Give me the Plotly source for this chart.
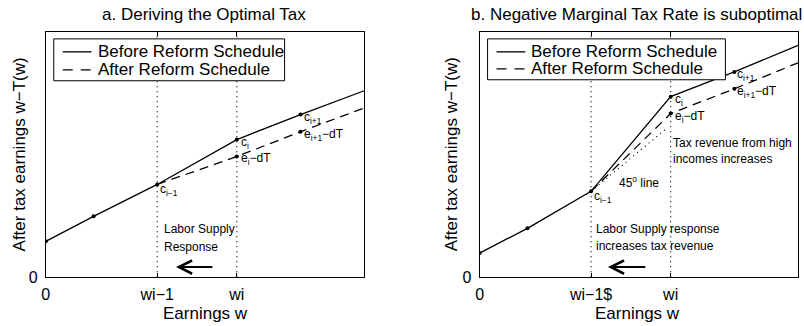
import plotly.graph_objects as go

W, H = 804, 326          # reference frame used for placing items (paper fractions)
H_LAYOUT = 334           # rendered height (the capture is squeezed to 326 rows)
FONT = "Liberation Sans, Arial, Helvetica, sans-serif"

# ---------------- data ----------------
x_pts = [0, 1.5, 3.5, 6.0, 8.0, 10.0]
tick_vals = [0, 3.5, 6.0]
ticks_a = ["0", "wi−1", "wi"]
ticks_b = ["0", "wi−1$", "wi"]
wi_1, wi = 3.5, 6.0

before_a = [1.46, 2.48, 3.78, 5.61, 6.63, 7.60]
after_x = [3.5, 6.0, 8.0, 10.0]
after_a = [3.78, 4.92, 5.93, 6.90]

before_b = [0.98, 1.99, 3.50, 7.36, 8.37, 9.45]
after_b = [3.50, 6.67, 7.68, 8.74]
line45_x = [3.5, 5.9]
line45_y = [3.5, 6.1]

legend_labels = ["Before Reform Schedule", "After Reform Schedule"]
titles = ["a. Deriving the Optimal Tax", "b. Negative Marginal Tax Rate is suboptimal"]


def px(x):
    return x / W


def py(y):
    return 1 - y / H


fig = go.Figure()

SOLID = dict(color="black", width=1.3)
DASH = dict(color="black", width=1.3, dash="9px,6px")
DOT = dict(color="black", width=1.2, dash="1px,4px")

for xr, yr, before, after in [("x", "y", before_a, after_a), ("x2", "y2", before_b, after_b)]:
    for v in (wi_1, wi):
        fig.add_trace(go.Scatter(x=[v, v], y=[0, 10], mode="lines", line=DOT,
                                 xaxis=xr, yaxis=yr, showlegend=False, hoverinfo="skip"))
    fig.add_trace(go.Scatter(x=x_pts, y=before, mode="lines", line=SOLID,
                             xaxis=xr, yaxis=yr, showlegend=False))
    fig.add_trace(go.Scatter(x=after_x, y=after, mode="lines", line=DASH,
                             xaxis=xr, yaxis=yr, showlegend=False))
    fig.add_trace(go.Scatter(x=x_pts[:5], y=before[:5], mode="markers",
                             marker=dict(color="black", size=4),
                             xaxis=xr, yaxis=yr, showlegend=False))
    fig.add_trace(go.Scatter(x=after_x[1:3], y=after[1:3], mode="markers",
                             marker=dict(color="black", size=4),
                             xaxis=xr, yaxis=yr, showlegend=False))

fig.add_trace(go.Scatter(x=line45_x, y=line45_y, mode="lines", line=DOT,
                         xaxis="x2", yaxis="y2", showlegend=False))

ann = []
LBL = dict(size=12, color="black", family=FONT)


def point_label(text, x, y, xr, yr, yshift=-3, xshift=3):
    ann.append(dict(text=text, x=x, y=y, xref=xr, yref=yr, xanchor="left", yanchor="middle",
                    showarrow=False, xshift=xshift, yshift=yshift, font=LBL))


for xr, yr, before, after in [("x", "y", before_a, after_a), ("x2", "y2", before_b, after_b)]:
    point_label("c<sub>i−1</sub>", x_pts[2], before[2], xr, yr, yshift=-6, xshift=1)
    point_label("c<sub>i</sub>", x_pts[3], before[3], xr, yr, yshift=-3, xshift=2)
    point_label("c<sub>i+1</sub>", x_pts[4], before[4], xr, yr, yshift=-3, xshift=1)
    point_label("e<sub>i</sub>−dT", after_x[1], after[1], xr, yr, yshift=-3, xshift=2)
    point_label("e<sub>i+1</sub>−dT", after_x[2], after[2], xr, yr, yshift=-3, xshift=1)

TXT = dict(size=12, color="black", family=FONT)


def text_at(t, x, y, xr, yr):
    ann.append(dict(text=t, x=x, y=y, xref=xr, yref=yr, xanchor="left", yanchor="middle",
                    showarrow=False, font=TXT))


text_at("Labor Supply", 3.66, 1.95, "x", "y")
text_at("Response", 3.66, 1.22, "x", "y")
text_at("Labor Supply response", 3.60, 1.95, "x2", "y2")
text_at("increases tax revenue", 3.60, 1.26, "x2", "y2")
text_at("Tax revenue from high", 6.00, 5.49, "x2", "y2")
text_at("incomes increases", 6.00, 4.80, "x2", "y2")
text_at("45<sup>o</sup> line", 4.30, 3.86, "x2", "y2")

# arrows (labor supply response)
for xr, yr, head, tail in [("x", "y", 4.09, 5.28), ("x2", "y2", 4.03, 5.25)]:
    ann.append(dict(text="", x=head, y=0.41, ax=tail, ay=0.41, xref=xr, yref=yr,
                    axref=xr, ayref=yr, showarrow=True, arrowhead=5, arrowsize=1.3,
                    arrowwidth=2, arrowcolor="black", standoff=0))

# titles and axis titles
BIG = dict(size=17, color="black", family=FONT)
for t, cx in zip(titles, [201, 636]):
    ann.append(dict(text=t, x=px(cx), y=py(15), xref="paper", yref="paper",
                    xanchor="center", yanchor="middle", showarrow=False, font=BIG))
for cx in [203, 637]:
    ann.append(dict(text="Earnings w", x=px(cx), y=py(314), xref="paper", yref="paper",
                    xanchor="center", yanchor="middle", showarrow=False, font=BIG))
for cx in [16, 450]:
    ann.append(dict(text="After tax earnings w−T(w)", x=px(cx), y=py(155), xref="paper",
                    yref="paper", xanchor="center", yanchor="middle", showarrow=False,
                    textangle=-90, font=BIG))

# legends (drawn boxes)
shapes = []
for (x0, x1, y0, y1, s0, s1, tx, r1, r2) in [
    (50, 282, 39, 81, 59, 88, 93, 52, 70),
    (486, 725, 39, 80, 495, 524, 529, 52, 69),
]:
    shapes.append(dict(type="rect", xref="paper", yref="paper", x0=px(x0), x1=px(x1),
                       y0=py(y1), y1=py(y0), line=dict(color="black", width=1),
                       fillcolor="white", layer="above"))
    shapes.append(dict(type="line", xref="paper", yref="paper", x0=px(s0), x1=px(s1),
                       y0=py(r1), y1=py(r1), line=dict(color="black", width=1.3), layer="above"))
    shapes.append(dict(type="line", xref="paper", yref="paper", x0=px(s0), x1=px(s1),
                       y0=py(r2), y1=py(r2), line=dict(color="black", width=1.3, dash="10px,8px"),
                       layer="above"))
    for lab, r in zip(legend_labels, [r1, r2]):
        ann.append(dict(text=lab, x=px(tx), y=py(r), xref="paper", yref="paper",
                        xanchor="left", yanchor="middle", showarrow=False, font=BIG,
                        height=15, borderpad=0))

axis_common = dict(range=[0, 10], showgrid=False, zeroline=False, showline=True,
                   linecolor="black", linewidth=1, mirror="ticks", ticks="inside",
                   ticklen=4, tickcolor="black", tickwidth=1,
                   tickfont=dict(size=16, color="black", family=FONT), fixedrange=True)

ydom = [py(278), py(32)]
fig.update_layout(
    width=W, height=H_LAYOUT, margin=dict(l=0, r=0, t=0, b=0),
    paper_bgcolor="white", plot_bgcolor="white", showlegend=False,
    xaxis=dict(domain=[px(42), px(362)], tickvals=tick_vals, ticktext=ticks_a,
               anchor="y", ticklabelstandoff=3, **axis_common),
    yaxis=dict(domain=ydom, tickvals=[0], ticktext=["0"], anchor="x",
               ticklabelstandoff=4, **axis_common),
    xaxis2=dict(domain=[px(478), px(798)], tickvals=tick_vals, ticktext=ticks_b,
                anchor="y2", ticklabelstandoff=3, **axis_common),
    yaxis2=dict(domain=ydom, tickvals=[0], ticktext=["0"], anchor="x2",
                ticklabelstandoff=4, **axis_common),
    annotations=ann, shapes=shapes,
)

post = (
    "document.documentElement.style.cssText='margin:0;padding:0;overflow:hidden;';"
    "document.body.style.cssText='margin:0;padding:0;overflow:hidden;';"
    "var gd=document.getElementById('{plot_id}');"
    "gd.style.position='fixed';gd.style.top='0px';gd.style.left='0px';"
)

fig.write_html("out.html", config={"displayModeBar": False}, post_script=post)
